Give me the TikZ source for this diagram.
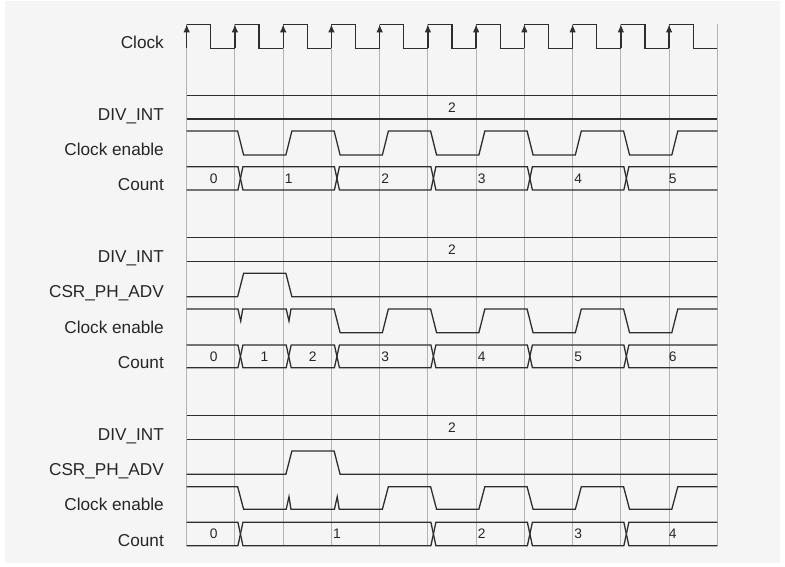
\documentclass[tikz,border=0pt]{standalone}
\usepackage{fontspec}
\setmainfont{Liberation Sans}
\usetikzlibrary{arrows.meta}
\definecolor{bgc}{HTML}{F5F5F5}
\definecolor{gridc}{HTML}{B4B4B4}
\definecolor{sigc}{HTML}{2E2E2E}
\def\X#1#2{{186.7+48.24*(#1)+(#2)}}
\begin{document}
\begin{tikzpicture}[x=1pt,y=-1pt,
  sig/.style={draw=sigc,line width=1.3pt,line join=miter},
  gridline/.style={draw=gridc,line width=1pt},
  lbl/.style={anchor=base east,inner sep=0pt,text=black!85,font=\fontsize{17.2}{20}\selectfont},
  val/.style={anchor=center,inner sep=0pt,text=black!85,font=\fontsize{13.8}{16}\selectfont},
  clkarrow/.style={draw=sigc,line width=1.3pt,-{Latex[length=8pt,width=6.5pt]}}]
\useasboundingbox (0,0) rectangle (785,567);
\fill[white] (0,0) rectangle (785,567);
\fill[bgc] (5,1) rectangle (780,563);
% grid lines
\foreach \k in {0,...,11} { \draw[gridline] (\X{\k}{0},24.3) -- (\X{\k}{0},545.7); }
% clock
\foreach \k in {0,...,10} {
  \draw[sig] (\X{\k}{0},24.3) -- (\X{\k}{24.12},24.3) -- (\X{\k}{24.12},48.3) -- (\X{\k+1}{0},48.3);
  \draw[clkarrow] (\X{\k}{0},48.3) -- (\X{\k}{0},24.3);
}
\node[lbl] (lclk) at (164,49) {Clock};
% ===== group 1 =====
\node[lbl] (ldiv1) at (164,120.7) {DIV\_INT};
\node[lbl] (lce1) at (164,155.7) {Clock enable};
\node[lbl] (lcnt1) at (164,191) {Count};
\draw[sig] (\X00,95.7) -- (\X{11}0,95.7);
\draw[sig] (\X00,119) -- (\X{11}0,119);
\node[val] (v1div) at (452,107.4) {2};
\draw[sig] (\X00,131) -- (\X1{2.7},131) -- (\X1{8.7},155) -- (\X2{2.7},155) -- (\X2{8.7},131)
  -- (\X3{2.7},131) -- (\X3{8.7},155) -- (\X4{2.7},155) -- (\X4{8.7},131)
  -- (\X5{2.7},131) -- (\X5{8.7},155) -- (\X6{2.7},155) -- (\X6{8.7},131)
  -- (\X7{2.7},131) -- (\X7{8.7},155) -- (\X8{2.7},155) -- (\X8{8.7},131)
  -- (\X9{2.7},131) -- (\X9{8.7},155) -- (\X{10}{2.7},155) -- (\X{10}{8.7},131) -- (\X{11}0,131);
\draw[sig] (\X00,166.7) -- (\X13,166.7) -- (\X18,190) -- (\X33,190) -- (\X38,166.7) -- (\X53,166.7) -- (\X58,190)
  -- (\X73,190) -- (\X78,166.7) -- (\X93,166.7) -- (\X98,190) -- (\X{11}0,190);
\draw[sig] (\X00,190) -- (\X13,190) -- (\X18,166.7) -- (\X33,166.7) -- (\X38,190) -- (\X53,190) -- (\X58,166.7)
  -- (\X73,166.7) -- (\X78,190) -- (\X93,190) -- (\X98,166.7) -- (\X{11}0,166.7);
\node[val] (c1a) at (213.6,178.4) {0};
\node[val] (c1b) at (\X{2}{5.5},178.4) {1};
\node[val] (c1c) at (\X{4}{5.5},178.4) {2};
\node[val] (c1d) at (\X{6}{5.5},178.4) {3};
\node[val] (c1e) at (\X{8}{5.5},178.4) {4};
\node[val] (c1f) at (\X{10}{3.5},178.4) {5};
% ===== group 2 =====
\node[lbl] (ldiv2) at (164,262.7) {DIV\_INT};
\node[lbl] (lcsr2) at (164,297.7) {CSR\_PH\_ADV};
\node[lbl] (lce2) at (164,333.7) {Clock enable};
\node[lbl] (lcnt2) at (164,368.7) {Count};
\draw[sig] (\X00,237.3) -- (\X{11}0,237.3);
\draw[sig] (\X00,261.7) -- (\X{11}0,261.7);
\node[val] (v2div) at (452,249.5) {2};
\draw[sig] (\X00,296.7) -- (\X1{2.7},296.7) -- (\X1{8.7},273.3) -- (\X2{2.7},273.3) -- (\X2{8.7},296.7) -- (\X{11}0,296.7);
\draw[sig] (\X00,309) -- (\X1{3},309) -- (\X1{5.8},321) -- (\X1{7.8},309) -- (\X2{3},309) -- (\X2{5.8},321) -- (\X2{7.8},309)
  -- (\X3{2.7},309) -- (\X3{8.7},332.7) -- (\X4{2.7},332.7) -- (\X4{8.7},309)
  -- (\X5{2.7},309) -- (\X5{8.7},332.7) -- (\X6{2.7},332.7) -- (\X6{8.7},309)
  -- (\X7{2.7},309) -- (\X7{8.7},332.7) -- (\X8{2.7},332.7) -- (\X8{8.7},309)
  -- (\X9{2.7},309) -- (\X9{8.7},332.7) -- (\X{10}{2.7},332.7) -- (\X{10}{8.7},309) -- (\X{11}0,309);
\draw[sig] (\X00,345) -- (\X13,345) -- (\X18,367.7) -- (\X23,367.7) -- (\X28,345) -- (\X33,345) -- (\X38,367.7)
  -- (\X53,367.7) -- (\X58,345) -- (\X73,345) -- (\X78,367.7) -- (\X93,367.7) -- (\X98,345) -- (\X{11}0,345);
\draw[sig] (\X00,367.7) -- (\X13,367.7) -- (\X18,345) -- (\X23,345) -- (\X28,367.7) -- (\X33,367.7) -- (\X38,345)
  -- (\X53,345) -- (\X58,367.7) -- (\X73,367.7) -- (\X78,345) -- (\X93,345) -- (\X98,367.7) -- (\X{11}0,367.7);
\node[val] (c2a) at (213.6,356.4) {0};
\node[val] (c2b) at (\X{1.5}{5.5},356.4) {1};
\node[val] (c2c) at (\X{2.5}{5.5},356.4) {2};
\node[val] (c2d) at (\X{4}{5.5},356.4) {3};
\node[val] (c2e) at (\X{6}{5.5},356.4) {4};
\node[val] (c2f) at (\X{8}{5.5},356.4) {5};
\node[val] (c2g) at (\X{10}{3.5},356.4) {6};
% ===== group 3 =====
\node[lbl] (ldiv3) at (164,440.3) {DIV\_INT};
\node[lbl] (lcsr3) at (164,475.3) {CSR\_PH\_ADV};
\node[lbl] (lce3) at (164,510.3) {Clock enable};
\node[lbl] (lcnt3) at (164,546.7) {Count};
\draw[sig] (\X00,415.7) -- (\X{11}0,415.7);
\draw[sig] (\X00,439.3) -- (\X{11}0,439.3);
\node[val] (v3div) at (452,427.6) {2};
\draw[sig] (\X00,474.3) -- (\X2{2.7},474.3) -- (\X2{8.7},451) -- (\X3{2.7},451) -- (\X3{8.7},474.3) -- (\X{11}0,474.3);
\draw[sig] (\X00,486.7) -- (\X1{2.7},486.7) -- (\X1{8.7},509.3)
  -- (\X2{3},509.3) -- (\X2{5.8},496.7) -- (\X2{7.8},509.3) -- (\X3{3},509.3) -- (\X3{5.8},496.7) -- (\X3{7.8},509.3)
  -- (\X4{2.7},509.3) -- (\X4{8.7},486.7)
  -- (\X5{2.7},486.7) -- (\X5{8.7},509.3) -- (\X6{2.7},509.3) -- (\X6{8.7},486.7)
  -- (\X7{2.7},486.7) -- (\X7{8.7},509.3) -- (\X8{2.7},509.3) -- (\X8{8.7},486.7)
  -- (\X9{2.7},486.7) -- (\X9{8.7},509.3) -- (\X{10}{2.7},509.3) -- (\X{10}{8.7},486.7) -- (\X{11}0,486.7);
\draw[sig] (\X00,522.3) -- (\X13,522.3) -- (\X18,545.7) -- (\X53,545.7) -- (\X58,522.3)
  -- (\X73,522.3) -- (\X78,545.7) -- (\X93,545.7) -- (\X98,522.3) -- (\X{11}0,522.3);
\draw[sig] (\X00,545.7) -- (\X13,545.7) -- (\X18,522.3) -- (\X53,522.3) -- (\X58,545.7)
  -- (\X73,545.7) -- (\X78,522.3) -- (\X93,522.3) -- (\X98,545.7) -- (\X{11}0,545.7);
\node[val] (c3a) at (213.6,534) {0};
\node[val] (c3b) at (\X{3}{5.5},534) {1};
\node[val] (c3c) at (\X{6}{5.5},534) {2};
\node[val] (c3d) at (\X{8}{5.5},534) {3};
\node[val] (c3e) at (\X{10}{3.5},534) {4};
\end{tikzpicture}
\end{document}
